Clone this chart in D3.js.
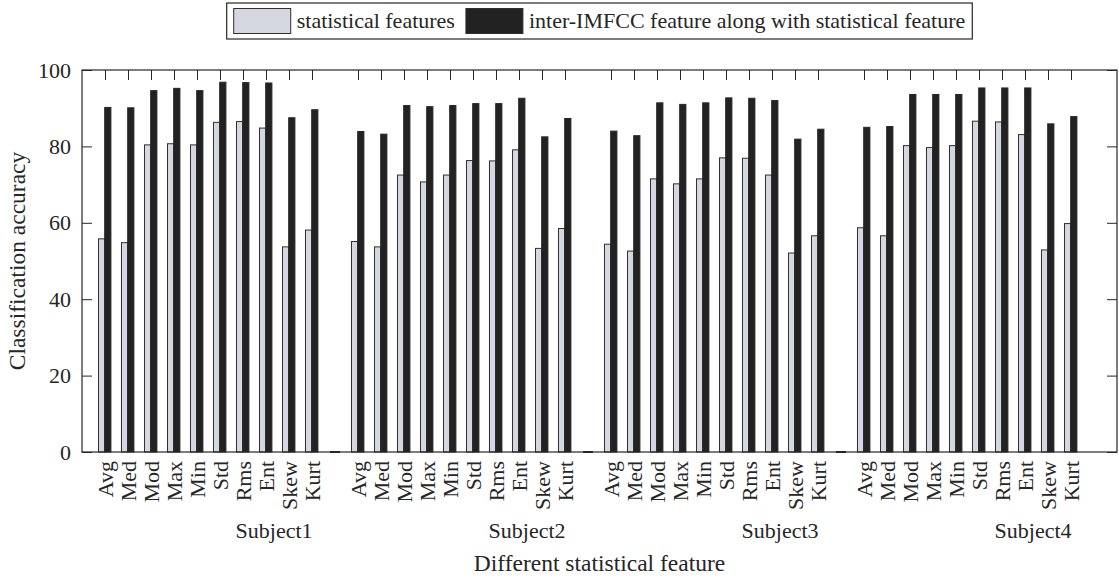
<!DOCTYPE html>
<html>
<head>
<meta charset="utf-8">
<script src="https://cdn.jsdelivr.net/npm/d3@7"></script>
<style>
  html, body { margin: 0; padding: 0; background: #fff; }
  svg { display: block; }
  text { font-family: "Liberation Serif", "Times New Roman", serif; fill: #262626; }
</style>
</head>
<body>
<svg id="chart" width="1119" height="578"></svg>
<script>
// Feature names shown under every subject group
const features = ["Avg", "Med", "Mod", "Max", "Min", "Std", "Rms", "Ent", "Skew", "Kurt"];
const subjects = ["Subject1", "Subject2", "Subject3", "Subject4"];

// Classification accuracy (%) using statistical features only
const statS1 = [55.8, 54.8, 80.4, 80.7, 80.4, 86.3, 86.5, 84.8, 53.7, 58.1];
const statS2 = [55.1, 53.7, 72.5, 70.7, 72.5, 76.3, 76.2, 79.1, 53.3, 58.5];
const statS3 = [54.4, 52.6, 71.5, 70.2, 71.5, 77.0, 76.9, 72.5, 52.1, 56.6];
const statS4 = [58.7, 56.6, 80.2, 79.7, 80.2, 86.6, 86.4, 83.1, 52.9, 59.8];

// Classification accuracy (%) using inter-IMFCC + statistical features
const interS1 = [90.2, 90.1, 94.6, 95.2, 94.6, 96.8, 96.7, 96.6, 87.5, 89.6];
const interS2 = [83.9, 83.2, 90.7, 90.4, 90.7, 91.2, 91.2, 92.6, 82.5, 87.3];
const interS3 = [84.0, 82.8, 91.4, 91.0, 91.4, 92.7, 92.6, 92.0, 81.9, 84.5];
const interS4 = [85.0, 85.2, 93.6, 93.6, 93.6, 95.3, 95.3, 95.3, 85.9, 87.8];

// Empty spacer entries between subject groups
const spacerValues = [0, 0, 0];

const yTicks = [0, 20, 40, 60, 80, 100];

const legendLabels = ["statistical features", "inter-IMFCC feature along with statistical feature"];

const statBySubject = [statS1, statS2, statS3, statS4];
const interBySubject = [interS1, interS2, interS3, interS4];

// ---- layout ----
const plotLeft = 82, plotRight = 1117, plotTop = 70, plotBottom = 452;
const groupSize = features.length + 1;          // ten features + one spacer
const nSlots = subjects.length * groupSize + 1;  // positions 0..45 on the x axis

const svg = d3.select("#chart");
const x = d3.scaleLinear().domain([0, nSlots]).range([plotLeft, plotRight]);
const y = d3.scaleLinear().domain([0, 100]).range([plotBottom, plotTop]);
const step = x(1) - x(0);
const barW = step * 0.27;

// flatten into rows
const rows = [];
subjects.forEach((s, g) => {
  features.forEach((f, i) => {
    rows.push({ slot: g * groupSize + i + 1, feature: f, subject: s,
                stat: statBySubject[g][i], inter: interBySubject[g][i] });
  });
});
const spacerRows = spacerValues.map((v, k) => ({ slot: (k + 1) * groupSize, v }));
const labelOf = new Map(rows.map(r => [r.slot, r.feature]));

// ---- bars ----
const bars = svg.append("g");
bars.selectAll("rect.stat").data(rows).join("rect")
  .attr("class", "stat")
  .attr("x", d => x(d.slot) - barW - 0.3)
  .attr("width", barW)
  .attr("y", d => y(d.stat))
  .attr("height", d => y(0) - y(d.stat))
  .attr("fill", "#d5d7e1")
  .attr("stroke", "#303030")
  .attr("stroke-width", 1);

bars.selectAll("rect.inter").data(rows).join("rect")
  .attr("class", "inter")
  .attr("x", d => x(d.slot) - 0.3)
  .attr("width", barW)
  .attr("y", d => y(d.inter))
  .attr("height", d => y(0) - y(d.inter))
  .attr("fill", "#222222")
  .attr("stroke", "#262626")
  .attr("stroke-width", 1);

// zero-height spacer bars show up as short strokes on the baseline
bars.selectAll("line.spacer").data(spacerRows).join("line")
  .attr("class", "spacer")
  .attr("x1", d => x(d.slot) - barW * 0.8)
  .attr("x2", d => x(d.slot) + barW * 0.8)
  .attr("y1", d => y(d.v))
  .attr("y2", d => y(d.v))
  .attr("stroke", "#262626")
  .attr("stroke-width", 2);

// ---- axes ----
const slotTicks = rows.map(r => r.slot);
const styleAxis = g => {
  g.select(".domain").remove();
  g.selectAll(".tick line").attr("stroke", "#262626").attr("stroke-width", 1);
  g.selectAll("text").style("font-size", "22px").style("font-family", "Liberation Serif").attr("fill", "#262626");
};

svg.append("g").attr("transform", `translate(${plotLeft},0)`)
  .call(d3.axisLeft(y).tickValues(yTicks).tickSizeInner(-10).tickSizeOuter(0).tickPadding(11))
  .call(styleAxis);

svg.append("g").attr("transform", `translate(${plotRight},0)`)
  .call(d3.axisRight(y).tickValues(yTicks).tickSizeInner(-10).tickSizeOuter(0).tickFormat(""))
  .call(styleAxis);

svg.append("g").attr("transform", `translate(0,${plotTop})`)
  .call(d3.axisTop(x).tickValues(slotTicks).tickSizeInner(-10).tickSizeOuter(0).tickFormat(""))
  .call(styleAxis);

svg.append("g").attr("transform", `translate(0,${plotBottom})`)
  .call(d3.axisBottom(x).tickValues(slotTicks).tickSizeInner(-10).tickSizeOuter(0)
        .tickFormat(v => labelOf.get(v)))
  .call(styleAxis)
  .call(g => g.selectAll("text")
    .attr("transform", "rotate(-90)")
    .attr("x", -9)
    .attr("y", 0)
    .attr("dy", "0.33em")
    .style("text-anchor", "end"));

// plot frame
svg.append("rect")
  .attr("x", plotLeft).attr("y", plotTop)
  .attr("width", plotRight - plotLeft).attr("height", plotBottom - plotTop)
  .attr("fill", "none").attr("stroke", "#262626").attr("stroke-width", 1.2);

// subject names under each group
svg.append("g").selectAll("text").data(subjects).join("text")
  .attr("x", (d, g) => x(g * groupSize + 8.35))
  .attr("y", 538)
  .attr("text-anchor", "middle")
  .style("font-size", "22px")
  .text(d => d);

// axis titles
svg.append("text")
  .attr("x", (plotLeft + plotRight) / 2).attr("y", 571)
  .attr("text-anchor", "middle")
  .style("font-size", "23.5px")
  .text("Different statistical feature");

svg.append("text")
  .attr("transform", `translate(25,${(plotTop + plotBottom) / 2}) rotate(-90)`)
  .attr("text-anchor", "middle")
  .style("font-size", "23.5px")
  .text("Classification accuracy");

// ---- legend ----
const legend = svg.append("g");
const swW = 57, swH = 25, legTop = 3, legH = 36, gap = 6, itemGap = 11, pad = 7;
const legFills = ["#d5d7e1", "#222222"];
const items = legend.selectAll("g.item").data(legendLabels).join("g").attr("class", "item");
items.append("rect")
  .attr("width", swW).attr("height", swH)
  .attr("y", legTop + (legH - swH) / 2)
  .attr("fill", (d, i) => legFills[i])
  .attr("stroke", "#303030").attr("stroke-width", 1);
items.append("text")
  .attr("x", swW + gap)
  .attr("y", legTop + legH / 2 + 7)
  .style("font-size", "22px")
  .text(d => d);

// lay out the legend items horizontally and center above the plot
let cursor = 0;
const widths = [];
items.each(function () {
  const w = swW + gap + this.querySelector("text").getComputedTextLength();
  widths.push(w);
});
const total = d3.sum(widths) + itemGap * (widths.length - 1) + pad * 2;
const legLeft = (plotLeft + plotRight) / 2 - total / 2;
items.attr("transform", (d, i) => {
  const tx = legLeft + pad + cursor;
  cursor += widths[i] + itemGap;
  return `translate(${tx},0)`;
});
legend.insert("rect", ":first-child")
  .attr("x", legLeft).attr("y", legTop)
  .attr("width", total).attr("height", legH)
  .attr("fill", "#fff").attr("stroke", "#262626").attr("stroke-width", 1.2);
</script>
</body>
</html>
